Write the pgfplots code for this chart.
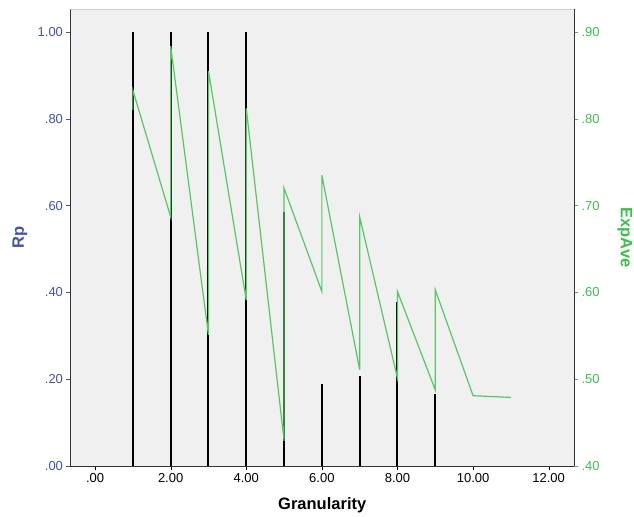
\documentclass[border=0pt]{standalone}
\usepackage{pgfplots}
\pgfplotsset{compat=1.18}
\usepackage{fontspec}
\setmainfont{Liberation Sans}
\definecolor{bgc}{RGB}{240,240,240}
\definecolor{rpblue}{RGB}{64,82,170}
\definecolor{exgreen}{RGB}{60,190,75}
\definecolor{lgreen}{RGB}{85,200,100}
\begin{document}
\begin{tikzpicture}
\pgfplotsset{
 every axis/.append style={
  scale only axis, width=503.5bp, height=457bp,
  xmin=-0.65, xmax=12.67,
  tick align=outside, major tick length=4bp,
  tick label style={font=\fontsize{13bp}{15bp}\selectfont},
  axis line style={color=black!80, line width=0.8bp},
 }
}
\begin{axis}[
  axis x line*=bottom, axis y line*=left,
  ymin=0, ymax=1.053,
  xtick={0,2,4,6,8,10,12}, xticklabels={.00,2.00,4.00,6.00,8.00,10.00,12.00},
  ytick={0,0.2,0.4,0.6,0.8,1}, yticklabels={.00,.20,.40,.60,.80,1.00},
  y tick label style={color=rpblue},
  y tick style={color=rpblue}, x tick style={black},
  axis background/.style={fill=bgc},
  xlabel={Granularity},
  ylabel={Rp},
  every axis x label/.style={at={(axis description cs:0.5,-0.0853)}, anchor=center, font=\fontsize{16.5bp}{19bp}\selectfont\bfseries},
  every axis y label/.style={at={(axis description cs:-0.1003,0.5)}, rotate=90, anchor=center, color=rpblue, font=\fontsize{16.5bp}{19bp}\selectfont\bfseries},
]
\addplot[ycomb, black, line width=2bp, no markers] coordinates {
(1,1) (2,1) (3,1) (4,1) (5,0.586) (6,0.189) (7,0.208) (8,0.379) (9,0.166)
};
\draw[black!20, line width=0.8bp] (rel axis cs:0,1) -- (rel axis cs:1,1);
\end{axis}
\begin{axis}[
  axis y line*=right, axis x line=none,
  ymin=0.4, ymax=0.9265,
  ytick={0.4,0.5,0.6,0.7,0.8,0.9}, yticklabels={.40,.50,.60,.70,.80,.90},
  y tick label style={color=exgreen},
  y tick style={color=exgreen},
  ylabel={ExpAve},
  every axis y label/.style={at={(axis description cs:1.101,0.5)}, rotate=-90, anchor=center, color=exgreen, font=\fontsize{16.5bp}{19bp}\selectfont\bfseries},
]
\addplot[lgreen, line width=1.2bp, no markers] coordinates {
(1,0.810) (1,0.833) (2,0.687) (2,0.884) (3,0.551) (3,0.855) (4,0.591) (4,0.812)
(5,0.429) (5,0.720) (6,0.601) (6,0.735) (7,0.511) (7,0.687) (8,0.501) (8,0.601)
(9,0.4876) (9,0.603) (10,0.481) (11,0.479)
};
\end{axis}
\pgfresetboundingbox
\path[use as bounding box] (-70.5bp,-51bp) rectangle (563.5bp,466bp);
\end{tikzpicture}
\end{document}
